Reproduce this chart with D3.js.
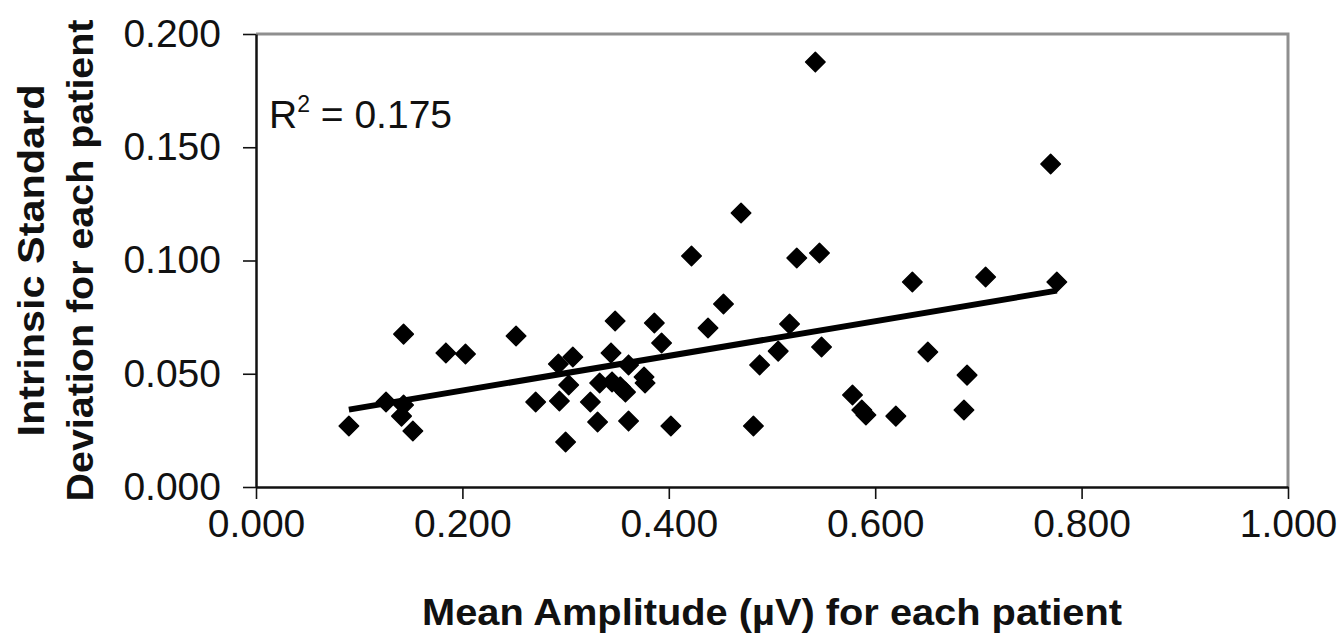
<!DOCTYPE html>
<html lang="en">
<head>
  <meta charset="UTF-8" />
  <title>Intrinsic SD vs mean amplitude</title>
  <style>
    body { margin: 0; background: #fff; }
    svg text { font-family: "Liberation Sans", Arial, sans-serif; fill: #111; }
    .tick-label { font-size: 39px; }
    .axis-title { font-size: 37px; font-weight: bold; }
    .trend { fill: none; stroke: #000; stroke-width: 6px; }
  </style>
</head>
<body>
  <script src="https://cdn.jsdelivr.net/npm/d3@7"></script>
  <script>
    // mean amplitude (uV) per patient
    var amplitude = [0.090, 0.126, 0.143, 0.141, 0.143, 0.152, 0.184, 0.203, 0.252, 0.271,
      0.293, 0.307, 0.294, 0.303, 0.300, 0.324, 0.331, 0.333, 0.345, 0.353,
      0.358, 0.344, 0.348, 0.361, 0.361, 0.376, 0.377, 0.386, 0.393, 0.402,
      0.422, 0.438, 0.453, 0.470, 0.482, 0.488, 0.506, 0.517, 0.524, 0.546,
      0.548, 0.542, 0.578, 0.587, 0.591, 0.620, 0.636, 0.651, 0.686, 0.689,
      0.707, 0.770, 0.776];
    // intrinsic standard deviation per patient
    var intrinsicSD = [0.0269, 0.0375, 0.0362, 0.0313, 0.0675, 0.0247, 0.0592, 0.0587, 0.0667, 0.0375,
      0.0543, 0.0574, 0.0380, 0.0450, 0.0199, 0.0375, 0.0287, 0.0459, 0.0464, 0.0442,
      0.0419, 0.0592, 0.0733, 0.0539, 0.0291, 0.0486, 0.0459, 0.0724, 0.0636, 0.0269,
      0.1020, 0.0702, 0.0808, 0.1210, 0.0269, 0.0539, 0.0600, 0.0720, 0.1011, 0.1033,
      0.0618, 0.1876, 0.0406, 0.0340, 0.0318, 0.0313, 0.0905, 0.0596, 0.0340, 0.0494,
      0.0927, 0.1426, 0.0905];
    var xTicks = [0, 0.2, 0.4, 0.6, 0.8, 1.0];
    var yTicks = [0, 0.05, 0.1, 0.15, 0.2];
    var rSquared = "0.175";

    var w = 1340, h = 637;
    var margin = { top: 34, right: 52, bottom: 150, left: 256 };

    var points = amplitude.map(function(a, i) { return { x: a, y: intrinsicSD[i] }; });

    var svg = d3.select("body").append("svg")
      .attr("width", w)
      .attr("height", h);

    var xScale = d3.scaleLinear()
      .domain([0, 1])
      .range([margin.left, w - margin.right]);

    var yScale = d3.scaleLinear()
      .domain([0, 0.2])
      .range([h - margin.bottom, margin.top]);

    var fmt = d3.format(".3f");

    // grey frame on top and right
    svg.append("path")
      .attr("d", "M" + xScale(0) + "," + yScale(0.2) + "H" + xScale(1) + "V" + yScale(0))
      .attr("fill", "none")
      .attr("stroke", "#8f8f8f")
      .attr("stroke-width", 3);

    var xAxis = d3.axisBottom(xScale)
      .tickValues(xTicks)
      .tickFormat(fmt)
      .tickSizeInner(12)
      .tickSizeOuter(0)
      .tickPadding(10);

    var yAxis = d3.axisLeft(yScale)
      .tickValues(yTicks)
      .tickFormat(fmt)
      .tickSizeInner(13)
      .tickSizeOuter(0)
      .tickPadding(22);

    var gx = svg.append("g")
      .attr("transform", "translate(0," + yScale(0) + ")")
      .call(xAxis);

    var gy = svg.append("g")
      .attr("transform", "translate(" + xScale(0) + ",0)")
      .call(yAxis);

    [gx, gy].forEach(function(g) {
      g.select(".domain").attr("stroke", "#111").attr("stroke-width", 2.5);
      g.selectAll(".tick line").attr("stroke", "#111").attr("stroke-width", 1.6);
      g.selectAll(".tick text")
        .attr("class", "tick-label")
        .attr("fill", "#111")
        .style("font-family", "'Liberation Sans', Arial, sans-serif");
    });

    // linear regression for the trend line
    var mx = d3.mean(points, function(d) { return d.x; });
    var my = d3.mean(points, function(d) { return d.y; });
    var sxy = d3.sum(points, function(d) { return (d.x - mx) * (d.y - my); });
    var sxx = d3.sum(points, function(d) { return (d.x - mx) * (d.x - mx); });
    var slope = sxy / sxx;
    var intercept = my - slope * mx;
    var ext = d3.extent(points, function(d) { return d.x; });
    var trend = ext.map(function(x) { return { x: x, y: intercept + slope * x }; });

    var line = d3.line()
      .x(function(d) { return xScale(d.x); })
      .y(function(d) { return yScale(d.y); });

    svg.append("path")
      .datum(trend)
      .attr("class", "trend")
      .attr("d", line);

    var diamond = d3.symbol().type(d3.symbolSquare).size(190);

    svg.selectAll(".pt")
      .data(points)
      .enter()
      .append("path")
      .attr("class", "pt")
      .attr("d", diamond)
      .attr("fill", "#000")
      .attr("stroke", "#000")
      .attr("stroke-width", 1.5)
      .attr("stroke-linejoin", "round")
      .attr("transform", function(d) {
        return "translate(" + xScale(d.x) + "," + yScale(d.y) + ") rotate(45)";
      });

    // R squared label
    var r2 = svg.append("text")
      .attr("x", 269)
      .attr("y", 128)
      .style("font-size", "39px");
    r2.append("tspan").text("R");
    r2.append("tspan").attr("dy", -16).style("font-size", "23px").text("2");
    r2.append("tspan").attr("dy", 16).text(" = " + rSquared);

    // axis titles
    svg.append("text")
      .attr("class", "axis-title")
      .attr("x", (xScale(0) + xScale(1)) / 2)
      .attr("y", 625)
      .attr("text-anchor", "middle")
      .attr("textLength", 700)
      .attr("lengthAdjust", "spacingAndGlyphs")
      .text("Mean Amplitude (\u00b5V) for each patient");

    var yt = svg.append("text")
      .attr("class", "axis-title")
      .attr("text-anchor", "middle")
      .attr("transform", "translate(0," + ((yScale(0) + yScale(0.2)) / 2) + ") rotate(-90)");
    yt.append("tspan").attr("x", 0).attr("y", 44)
      .attr("textLength", 352).attr("lengthAdjust", "spacingAndGlyphs")
      .text("Intrinsic Standard");
    yt.append("tspan").attr("x", 0).attr("y", 93)
      .attr("textLength", 482).attr("lengthAdjust", "spacingAndGlyphs")
      .text("Deviation for each patient");
  </script>
</body>
</html>
